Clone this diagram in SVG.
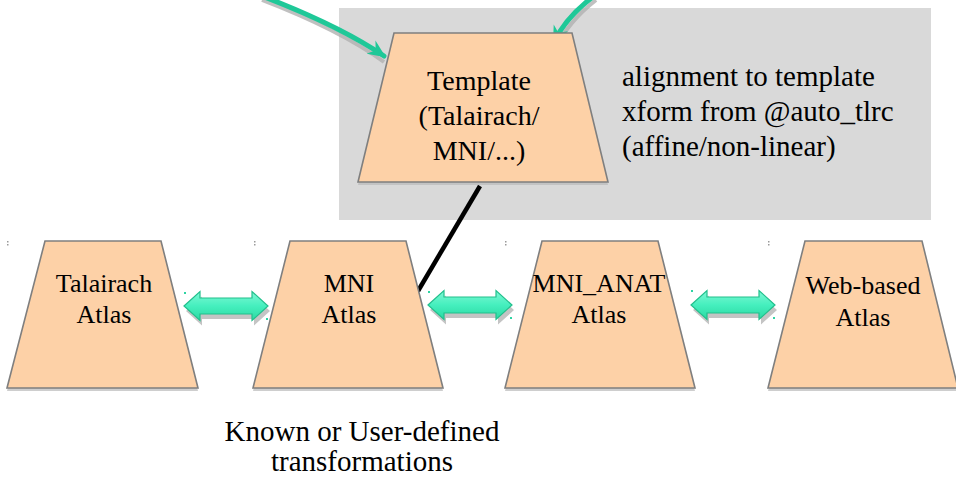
<svg xmlns="http://www.w3.org/2000/svg" width="956" height="488" viewBox="0 0 956 488">
<defs>
<style>
.trap{fill:#fdd1a7;stroke:#7f7f7f;stroke-width:1.6}
.shadow{fill:#b9b9b9;opacity:0.7}
.lbl{font-family:"Liberation Serif","Times New Roman",serif;fill:#000;text-anchor:middle}
.big{font-size:28px}
.sm{font-size:26px}
.note{font-family:"Liberation Serif","Times New Roman",serif;font-size:29px;fill:#000}
.dbl{fill:url(#tealGrad);stroke:#22bf8c;stroke-width:1.2}
.dblsh{fill:#c4c4c4}
.curve{fill:none;stroke:#1fc898;stroke-width:5;stroke-linecap:round}
.curvesh{fill:none;stroke:#b0b0b0;stroke-width:4;opacity:0.8}
.gdot{fill:#9a9a9a}
.tdot{fill:#2fd3a3}
</style>
<linearGradient id="tealGrad" x1="0" y1="0" x2="0" y2="1">
<stop offset="0" stop-color="#7ff8d4"/>
<stop offset="0.5" stop-color="#45efbe"/>
<stop offset="1" stop-color="#2bd9a2"/>
</linearGradient>
<path id="dblArrow" d="M0,0 L16,-14.5 L16,-8 L68,-8 L68,-14.5 L84,0 L68,14.5 L68,8 L16,8 L16,14.5 Z"/>
<marker id="head" markerUnits="userSpaceOnUse" markerWidth="18" markerHeight="18" refX="14" refY="7" orient="auto" viewBox="0 0 16 14">
<path d="M0,0 L16,7 L0,14 L5,7 Z" fill="#1fc898"/>
</marker>
</defs>

<rect id="graybox" x="339" y="8" width="592" height="212" fill="#d9d9d9"/>

<g id="connectors">
<path class="curvesh" d="M262,0 Q340,30 384,62"/>
<path class="curve" d="M262,-4 Q340,26 384,56" marker-end="url(#head)"/>
<path class="curvesh" d="M596,0 Q568,22 556,48"/>
<path class="curve" d="M594,-4 Q566,17 554,42" marker-end="url(#head)"/>
<line x1="480" y1="186" x2="418" y2="291" stroke="#000" stroke-width="4.5"/>
<g id="arrow1">
<use href="#dblArrow" class="dblsh" transform="translate(186,311)"/>
<use href="#dblArrow" class="dbl" transform="translate(184,306)"/>
</g>
<g id="arrow2">
<use href="#dblArrow" class="dblsh" transform="translate(430,310)"/>
<use href="#dblArrow" class="dbl" transform="translate(428,305)"/>
</g>
<g id="arrow3">
<use href="#dblArrow" class="dblsh" transform="translate(693,310)"/>
<use href="#dblArrow" class="dbl" transform="translate(691,305)"/>
</g>
<rect class="tdot" x="184" y="292" width="2" height="2"/>
<rect class="tdot" x="266" y="318" width="2" height="2"/>
<rect class="tdot" x="428" y="291" width="2" height="2"/>
<rect class="tdot" x="510" y="317" width="2" height="2"/>
<rect class="tdot" x="691" y="290" width="2" height="2"/>
<rect class="tdot" x="773" y="317" width="2" height="2"/>
</g>

<g id="template">
<polygon class="shadow" points="394,36 572,36 608,185 358,185"/>
<polygon class="trap" points="394,33 572,33 608,182 358,182"/>
<text class="lbl big" x="479" y="90">Template</text>
<text class="lbl big" x="479" y="125">(Talairach/</text>
<text class="lbl big" x="479" y="160">MNI/...)</text>
</g>

<g id="note">
<text class="note" x="622" y="86">alignment to template</text>
<text class="note" x="622" y="121">xform from @auto_tlrc</text>
<text class="note" x="622" y="156">(affine/non-linear)</text>
</g>

<g id="talairach">
<polygon class="shadow" points="45,244 161,244 198,391 7,391"/>
<polygon class="trap" points="45,241 161,241 198,388 7,388"/>
<text class="lbl sm" x="104" y="292">Talairach</text>
<text class="lbl sm" x="104" y="323">Atlas</text>
<rect class="gdot" x="7" y="241" width="1.5" height="1.5"/>
<rect class="gdot" x="7" y="244" width="1.5" height="1.5"/>
</g>

<g id="mni">
<polygon class="shadow" points="290,244 406,244 443,391 253,391"/>
<polygon class="trap" points="290,241 406,241 443,388 253,388"/>
<text class="lbl sm" x="349" y="292">MNI</text>
<text class="lbl sm" x="349" y="323">Atlas</text>
<rect class="gdot" x="254" y="241" width="1.5" height="1.5"/>
<rect class="gdot" x="254" y="244" width="1.5" height="1.5"/>
</g>

<g id="mni_anat">
<polygon class="shadow" points="542,244 658,244 695,391 505,391"/>
<polygon class="trap" points="542,241 658,241 695,388 505,388"/>
<text class="lbl sm" x="599" y="292">MNI_ANAT</text>
<text class="lbl sm" x="599" y="323">Atlas</text>
<rect class="gdot" x="505" y="241" width="1.5" height="1.5"/>
<rect class="gdot" x="505" y="244" width="1.5" height="1.5"/>
</g>

<g id="webbased">
<polygon class="shadow" points="805,244 922,244 958,391 768,391"/>
<polygon class="trap" points="805,241 922,241 958,388 768,388"/>
<text class="lbl sm" x="863" y="294">Web-based</text>
<text class="lbl sm" x="863" y="326">Atlas</text>
<rect class="gdot" x="768" y="241" width="1.5" height="1.5"/>
<rect class="gdot" x="768" y="244" width="1.5" height="1.5"/>
</g>

<g id="caption">
<text class="lbl" style="font-size:29px" x="362" y="441">Known or User-defined</text>
<text class="lbl" style="font-size:29px" x="362" y="471">transformations</text>
</g>
</svg>
